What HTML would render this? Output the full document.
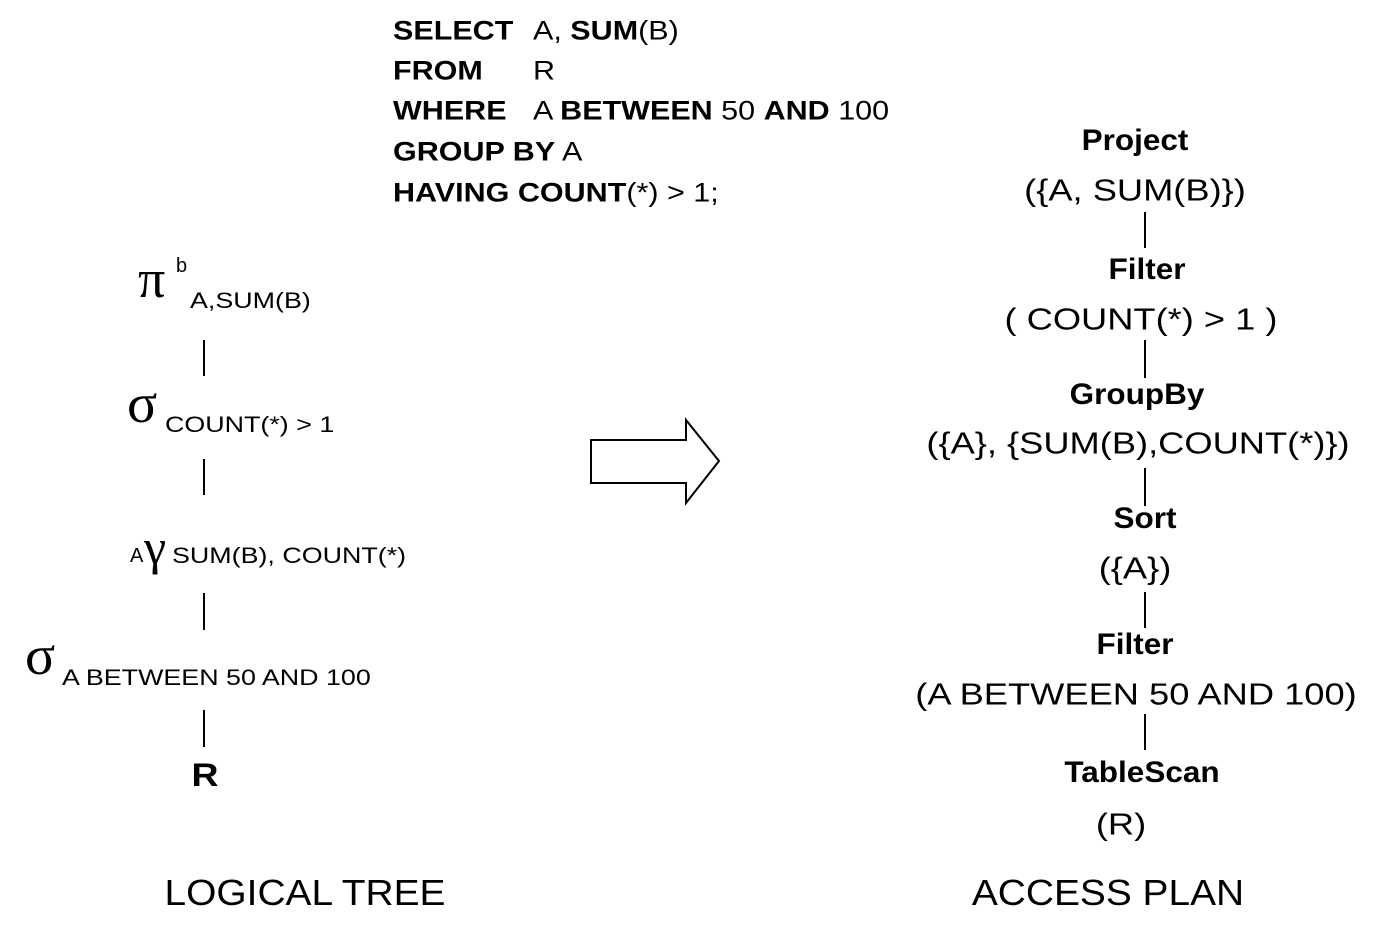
<!DOCTYPE html>
<html><head><meta charset="utf-8"><style>
body{margin:0;width:1385px;height:937px;background:#fff;position:relative;overflow:hidden;font-family:"Liberation Sans",sans-serif;color:#000}
.a{position:absolute;white-space:nowrap;line-height:1;transform-origin:0 50%}
.c{position:absolute;white-space:nowrap;line-height:1;transform:translate(-50%,-50%) scaleX(1.17)}
.h{transform:translate(-50%,-50%) scaleX(1.05)}
.b{font-weight:bold}
.v{position:absolute;width:0;border-left:2px solid #000}
.sql{font-size:27px;transform:translateY(-50%) scaleX(1.13)}
.s{transform:scaleX(1.22)}
</style></head><body>
<div class="a sql b" style="left:393px;top:31px">SELECT</div><div class="a sql" style="left:533px;top:31px">A, <b>SUM</b>(B)</div>
<div class="a sql b" style="left:393px;top:71px">FROM</div><div class="a sql" style="left:533px;top:71px">R</div>
<div class="a sql b" style="left:393px;top:111px">WHERE</div><div class="a sql" style="left:533px;top:111px">A <b>BETWEEN</b> 50 <b>AND</b> 100</div>
<div class="a sql" style="left:393px;top:152px"><b>GROUP BY</b> A</div>
<div class="a sql" style="left:393px;top:193px"><b>HAVING COUNT</b>(*) &gt; 1;</div>

<div class="a" style="left:138px;top:252px;font-size:54px;font-family:'Liberation Serif',serif">π</div>
<div class="a" style="left:176px;top:256px;font-size:20px">b</div>
<div class="a s" style="left:190px;top:290px;font-size:22px">A,SUM(B)</div>
<div class="v" style="left:203px;top:340px;height:36px"></div>
<div class="a" style="left:127px;top:376px;font-size:56px;font-family:'Liberation Serif',serif">σ</div>
<div class="a s" style="left:165px;top:414px;font-size:22px">COUNT(*) &gt; 1</div>
<div class="v" style="left:203px;top:459px;height:36px"></div>
<div class="a" style="left:130px;top:546px;font-size:20px">A</div>
<div class="a" style="left:144px;top:522px;font-size:50px;font-family:'Liberation Serif',serif">γ</div>
<div class="a s" style="left:172px;top:545px;font-size:22px">SUM(B), COUNT(*)</div>
<div class="v" style="left:203px;top:593px;height:37px"></div>
<div class="a" style="left:25px;top:628px;font-size:56px;font-family:'Liberation Serif',serif">σ</div>
<div class="a s" style="left:62px;top:667px;font-size:22px">A BETWEEN 50 AND 100</div>
<div class="v" style="left:203px;top:710px;height:37px"></div>
<div class="c b" style="left:205px;top:775px;font-size:32px">R</div>
<div class="c" style="left:305px;top:893px;font-size:36px;transform:translate(-50%,-50%) scaleX(1.08)">LOGICAL TREE</div>

<svg style="position:absolute;left:0;top:0" width="1385" height="937"><polygon points="591,440 686,440 686,420 719,461 686,503 686,483 591,483" fill="#fff" stroke="#000" stroke-width="2"/></svg>

<div class="c b h" style="left:1135px;top:141px;font-size:30px">Project</div>
<div class="c" style="left:1135px;top:190px;font-size:31px">({A, SUM(B)})</div>
<div class="v" style="left:1144px;top:212px;height:36px"></div>
<div class="c b h" style="left:1147px;top:270px;font-size:30px">Filter</div>
<div class="c" style="left:1141px;top:319px;font-size:31px">( COUNT(*) &gt; 1 )</div>
<div class="v" style="left:1144px;top:340px;height:38px"></div>
<div class="c b h" style="left:1137px;top:395px;font-size:30px">GroupBy</div>
<div class="c" style="left:1138px;top:443px;font-size:31px">({A}, {SUM(B),COUNT(*)})</div>
<div class="v" style="left:1144px;top:468px;height:38px"></div>
<div class="c b h" style="left:1145px;top:519px;font-size:30px">Sort</div>
<div class="c" style="left:1135px;top:568px;font-size:31px">({A})</div>
<div class="v" style="left:1144px;top:592px;height:36px"></div>
<div class="c b h" style="left:1135px;top:645px;font-size:30px">Filter</div>
<div class="c" style="left:1136px;top:694px;font-size:31px">(A BETWEEN 50 AND 100)</div>
<div class="v" style="left:1144px;top:714px;height:36px"></div>
<div class="c b h" style="left:1142px;top:773px;font-size:30px">TableScan</div>
<div class="c" style="left:1121px;top:824px;font-size:31px">(R)</div>
<div class="c" style="left:1108px;top:893px;font-size:36px;transform:translate(-50%,-50%) scaleX(1.08)">ACCESS PLAN</div>
</body></html>
